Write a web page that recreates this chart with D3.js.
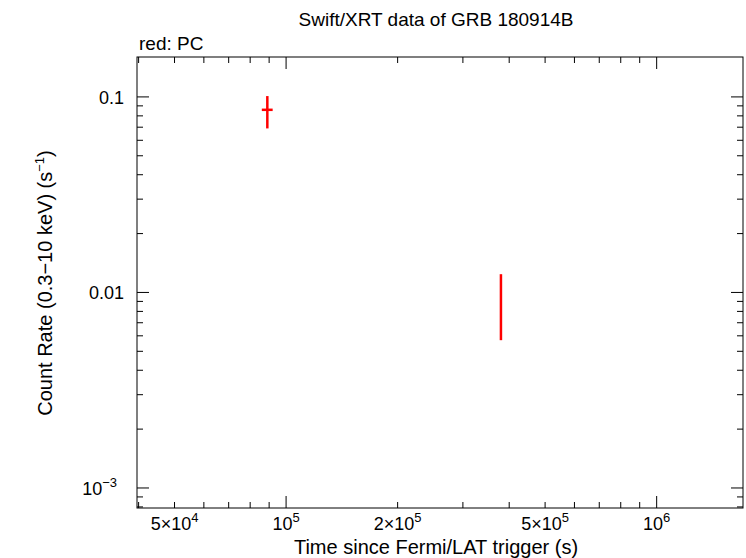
<!DOCTYPE html>
<html><head><meta charset="utf-8">
<script src="https://cdn.jsdelivr.net/npm/d3@7"></script>
<style>body{margin:0;background:#fff}text{font-family:"Liberation Sans",Arial,sans-serif}</style>
</head><body><svg id="c" width="746" height="558"></svg>
<script>
const times=[89000,380000];
const timeErrLo=[3000,1500];
const timeErrHi=[3000,1500];
const rates=[0.0859,0.0085];
const rateErrLo=[0.0169,0.0028];
const rateErrHi=[0.0151,0.0039];
const xTicks=[{v:5e4,m:"5",e:"4"},{v:1e5,m:"",e:"5"},{v:2e5,m:"2",e:"5"},{v:5e5,m:"5",e:"5"},{v:1e6,m:"",e:"6"}];
const yTicks=[{v:0.1,t:"0.1"},{v:0.01,t:"0.01"},{v:0.001,t:"10",e:"−3"}];

const svg=d3.select("#c");
const L=137,R=743,T=57,B=508;
const x=d3.scaleLog().domain([39600,1.71e6]).range([L,R]);
const y=d3.scaleLog().domain([7.9e-4,0.16]).range([B,T]);
svg.append("rect").attr("x",L).attr("y",T).attr("width",R-L).attr("height",B-T).attr("fill","none").attr("stroke","#000");
const g=svg.append("g");
const xt=[];for(let d=1e4;d<=1e6;d*=10)for(let k=1;k<10;k++){const v=k*d;if(v>=39600&&v<=1.71e6)xt.push({v,maj:k===1});}
xt.forEach(t=>{const p=x(t.v),len=t.maj?12:6;
 g.append("line").attr("x1",p).attr("x2",p).attr("y1",B).attr("y2",B-len).attr("stroke","#000");
 g.append("line").attr("x1",p).attr("x2",p).attr("y1",T).attr("y2",T+len).attr("stroke","#000");});
const yt=[];for(let d=1e-4;d<=0.1;d*=10)for(let k=1;k<10;k++){const v=k*d;if(v>=7.9e-4&&v<=0.16)yt.push({v,maj:k===1});}
yt.forEach(t=>{const p=y(t.v),len=t.maj?12:6;
 g.append("line").attr("y1",p).attr("y2",p).attr("x1",L).attr("x2",L+len).attr("stroke","#000");
 g.append("line").attr("y1",p).attr("y2",p).attr("x1",R).attr("x2",R-len).attr("stroke","#000");});
xTicks.forEach(t=>{const tx=g.append("text").attr("x",x(t.v)).attr("y",530).attr("text-anchor","middle").attr("font-size",18);
 tx.append("tspan").text(t.m?t.m+"×10":"10");tx.append("tspan").attr("dy",-8).attr("font-size",13).text(t.e);});
yTicks.forEach(t=>{const tx=g.append("text").attr("x",t.e?117:124).attr("y",y(t.v)+7).attr("text-anchor","end").attr("font-size",18);
 tx.append("tspan").text(t.t);if(t.e)tx.append("tspan").attr("dy",-8).attr("font-size",13).text(t.e);});
svg.append("text").attr("x",436).attr("y",554).attr("text-anchor","middle").attr("font-size",20).text("Time since Fermi/LAT trigger (s)");
const yl=svg.append("text").attr("transform","translate(52,283) rotate(-90)").attr("text-anchor","middle").attr("font-size",20);
yl.append("tspan").text("Count Rate (0.3−10 keV) (s");yl.append("tspan").attr("dy",-8).attr("font-size",13).text("−1");yl.append("tspan").attr("dy",8).text(")");
svg.append("text").attr("x",436).attr("y",26).attr("text-anchor","middle").attr("font-size",19).text("Swift/XRT data of GRB 180914B");
svg.append("text").attr("x",139).attr("y",50).attr("font-size",19).text("red: PC");
const d=g.append("g").attr("stroke","#f00").attr("stroke-width",2.5);
times.forEach((t,i)=>{
 d.append("line").attr("x1",x(t-timeErrLo[i])).attr("x2",x(t+timeErrHi[i])).attr("y1",y(rates[i])).attr("y2",y(rates[i]));
 d.append("line").attr("x1",x(t)).attr("x2",x(t)).attr("y1",y(rates[i]-rateErrLo[i])).attr("y2",y(rates[i]+rateErrHi[i]));});
</script></body></html>
